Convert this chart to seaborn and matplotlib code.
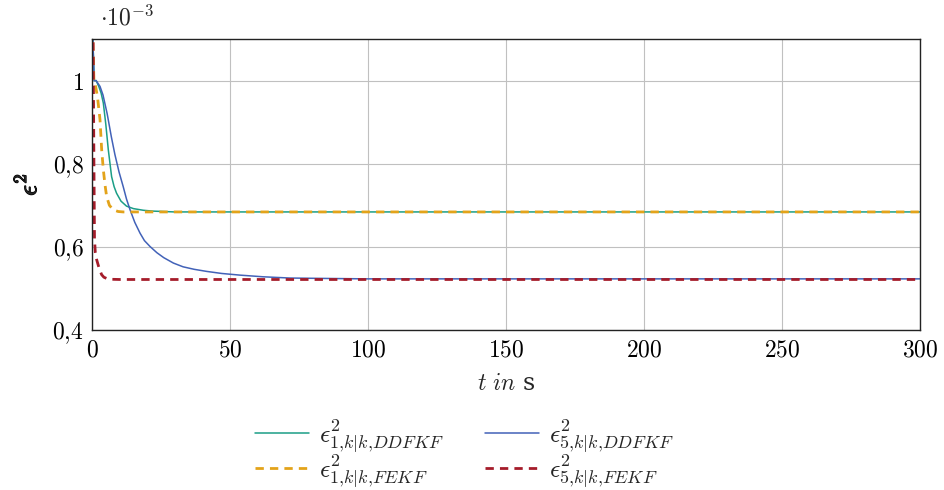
import numpy as np
import pandas as pd
import matplotlib
matplotlib.use("Agg")
import matplotlib.pyplot as plt
import matplotlib.patheffects as pe
import seaborn as sns

# data (values in units of 1e-3)
t_ddfkf1 = [0, 0.3, 0.8, 1.5, 2.5, 3.3, 4.1, 5.0, 5.9, 7.1, 8.0, 8.9, 10.5, 12.5, 15, 18.6, 22, 30, 50, 100, 200, 300]
v_ddfkf1 = [1.40, 1.10, 1.00, 1.00, 0.985, 0.97, 0.946, 0.895, 0.834, 0.769, 0.745, 0.729, 0.710, 0.698, 0.692, 0.688, 0.686, 0.684, 0.684, 0.684, 0.684, 0.684]

t_fekf1 = [0, 0.3, 0.7, 1.2, 2.0, 2.9, 3.5, 4.1, 4.7, 5.3, 6.3, 7.7, 9.5, 11.3, 13, 20, 50, 100, 200, 300]
v_fekf1 = [1.40, 1.10, 1.00, 0.99, 0.96, 0.906, 0.834, 0.786, 0.75, 0.721, 0.700, 0.689, 0.685, 0.684, 0.684, 0.684, 0.684, 0.684, 0.684, 0.684]

t_ddfkf5 = [0, 0.3, 0.8, 1.5, 2.9, 4.0, 5.5, 7.0, 8.3, 9.8, 11.3, 12.5, 13.8, 15.5, 17.4, 19, 21, 23.5, 26, 29.5, 33, 37, 41.5, 47, 53.6, 62, 71.7, 85, 99.5, 130, 200, 300]
v_ddfkf5 = [1.40, 1.10, 1.00, 1.00, 0.986, 0.965, 0.92, 0.865, 0.822, 0.780, 0.745, 0.715, 0.689, 0.659, 0.633, 0.615, 0.601, 0.586, 0.574, 0.561, 0.552, 0.546, 0.541, 0.536, 0.532, 0.528, 0.525, 0.524, 0.523, 0.523, 0.523, 0.523]

t_fekf5 = [0, 0.3, 0.5, 0.7, 0.9, 1.2, 1.7, 2.3, 2.9, 3.5, 4.3, 5.3, 7, 10, 50, 100, 200, 300]
v_fekf5 = [1.40, 1.20, 1.00, 0.80, 0.62, 0.586, 0.569, 0.555, 0.543, 0.533, 0.527, 0.524, 0.522, 0.5215, 0.5215, 0.5215, 0.5215, 0.5215]

labels = [r"$\epsilon^2_{1{,}k|k{,}DDFKF}$", r"$\epsilon^2_{5{,}k|k{,}DDFKF}$",
          r"$\epsilon^2_{1{,}k|k{,}FEKF}$", r"$\epsilon^2_{5{,}k|k{,}FEKF}$"]
x_ticks = [0, 50, 100, 150, 200, 250, 300]
y_ticks = [0.4, 0.6, 0.8, 1.0]
y_ticklabels = ["0,4", "0,6", "0,8", "1"]

sns.set_theme(style="whitegrid")
plt.rcParams["font.family"] = ["DejaVu Serif"]
plt.rcParams["mathtext.fontset"] = "cm"

fig = plt.figure(figsize=(9.44, 4.90), dpi=100)
ax = fig.add_axes([92/944, 1 - 330/490, (920-92)/944, (330-39)/490])

series = [
    (t_ddfkf1, v_ddfkf1, labels[0], "#1b9e86", "-", 1.1),
    (t_ddfkf5, v_ddfkf5, labels[1], "#4262b8", "-", 1.1),
    (t_fekf1, v_fekf1, labels[2], "#e3a31a", (0, (3.0, 2.2)), 2.0),
    (t_fekf5, v_fekf5, labels[3], "#a51c2a", (0, (3.0, 2.2)), 2.0),
]
for t, v, lab, col, ls, lw in series:
    df = pd.DataFrame({"t": t, "v": v})
    sns.lineplot(data=df, x="t", y="v", ax=ax, color=col, linestyle=ls, linewidth=lw, label=lab)

ax.set_xlim(0, 300)
ax.set_ylim(0.4, 1.1)
ax.set_xticks(x_ticks)
ax.set_xticklabels([f"${x}$" for x in x_ticks])
ax.set_yticks(y_ticks)
ax.set_yticklabels([f"${s.replace(',', '{,}')}$" for s in y_ticklabels])
ax.tick_params(axis="both", labelsize=17, length=0, pad=6, colors="black")
ax.grid(True, color="#c0c0c0", linewidth=0.8)
for s in ax.spines.values():
    s.set_color("#222222")
    s.set_linewidth(1.0)
ax.set_xlabel(r"$t\ in$ s", fontsize=17, labelpad=8)
yl = ax.set_ylabel(r"$\epsilon^2$", fontsize=19, labelpad=8)
yl.set_path_effects([pe.withStroke(linewidth=0.9, foreground="black")])
ax.text(0.01, 1.03, r"$\cdot10^{-3}$", transform=ax.transAxes, fontsize=17, ha="left", va="bottom")

h, l = ax.get_legend_handles_labels()
order = [0, 2, 1, 3]
ax.legend([h[i] for i in order], [l[i] for i in order], ncol=2, frameon=False,
          loc="upper center", bbox_to_anchor=(0.45, -0.22), fontsize=18.5,
          handlelength=2.1, columnspacing=1.6, labelspacing=-0.1, handletextpad=0.4)

fig.savefig("out.png", dpi=100)
